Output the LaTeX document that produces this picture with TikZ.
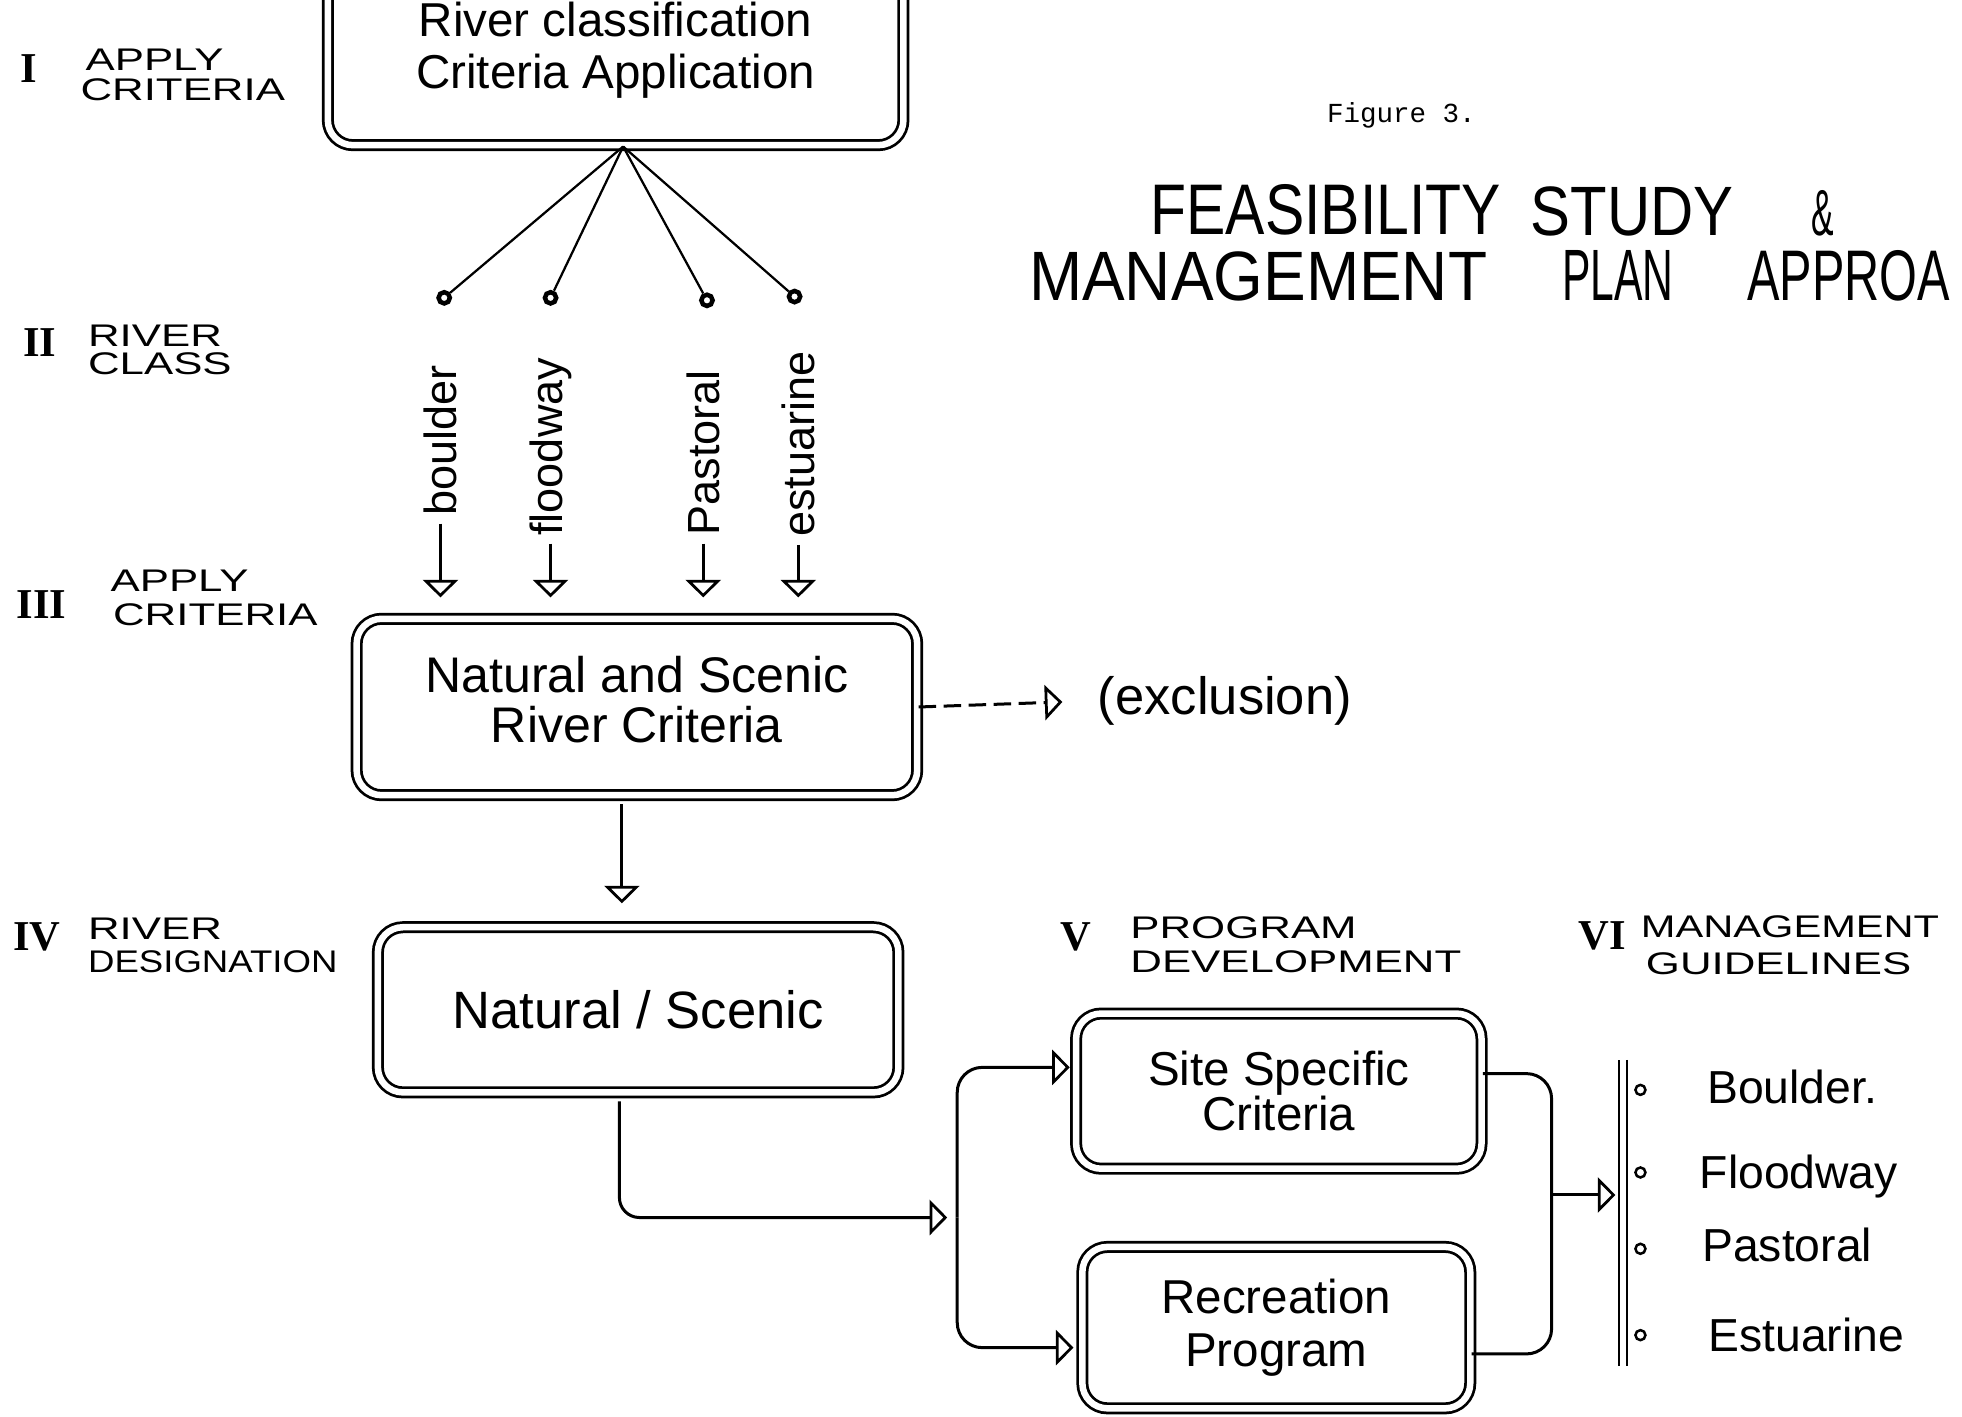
\documentclass[tikz,border=0pt]{standalone}
\usepackage{fontspec}
\setmainfont{Liberation Sans}
\newfontfamily\numfont{Liberation Serif}
\newfontfamily\typefont{Liberation Mono}
\newfontfamily\widefont[FakeStretch=1.4]{Liberation Sans}
\newfontfamily\midfont[FakeStretch=1.17]{Liberation Sans}
\newfontfamily\mgmtfont[FakeStretch=1.33]{Liberation Sans}
\usetikzlibrary{arrows.meta}
\begin{document}
\begin{tikzpicture}[x=0.5pt, y=-0.5pt,
  ln/.style={line width=1.2pt},
  thin ln/.style={line width=0.9pt},
  arr/.style={line width=1.2pt, -{Triangle[open, width=14pt, length=7pt, line width=1.1pt]}},
  dbox/.style={draw, line width=1.1pt, double, double distance=2.6pt, rounded corners=10pt, align=center, inner sep=0pt},
  steplbl/.style={font=\widefont\fontsize{12.5}{12.5}\selectfont, anchor=base west, inner sep=0pt},
  numlbl/.style={font=\numfont\bfseries\fontsize{17}{17}\selectfont, anchor=base west, inner sep=0pt},
  titleword/.style={anchor=base west, inner sep=0pt},
  rotlbl/.style={rotate=90, font=\fontsize{18}{18}\selectfont, inner sep=1pt},
  classdot/.style={circle, draw, line width=1.8pt, minimum size=4.5pt, inner sep=0pt},
  guidedot/.style={circle, draw, line width=1pt, minimum size=4pt, inner sep=0pt},
  guideitem/.style={font=\fontsize{18.5}{18.5}\selectfont, anchor=base west, inner sep=0pt}
]
\useasboundingbox (0,0) rectangle (1568,1132);
\clip (0,0) rectangle (1568,1132);

% boxes
\node[dbox, minimum width=230pt, minimum height=76pt, font=\fontsize{19}{21}\selectfont] (topbox) at (492,40) {River classification\\Criteria Application};
\node[dbox, minimum width=224pt, minimum height=70.5pt, font=\fontsize{20}{20.5}\selectfont] (boxcrit) at (509,565) {\raisebox{5pt}{\begin{tabular}{@{}c@{}}Natural and Scenic\\[-1pt]River Criteria\end{tabular}}};
\node[dbox, minimum width=208pt, minimum height=66pt, font=\fontsize{21}{21}\selectfont] (boxdes) at (510,807) {Natural / Scenic};
\node[dbox, minimum width=162pt, minimum height=62pt, font=\fontsize{19}{18}\selectfont] (boxsite) at (1022,872) {Site Specific\\Criteria};
\node[dbox, minimum width=155pt, minimum height=64.5pt, font=\fontsize{19}{21}\selectfont] (boxrec) at (1020,1061) {Recreation\\Program};

% title
\node[font=\typefont\fontsize{11}{11}\selectfont, inner sep=0pt] (fig) at (1120,92) {Figure 3.};
\node[titleword] (t1a) at (919,187) {\resizebox{140pt}{20pt}{FEASIBILITY}};
\node[titleword] (t1b) at (1223,188) {\resizebox{81pt}{19.5pt}{STUDY}};
\node[titleword] (t1c) at (1447,188) {\resizebox{9pt}{18pt}{\&}};
\node[titleword] (t2a) at (822,240) {\resizebox{183pt}{19.5pt}{MANAGEMENT}};
\node[titleword] (t2b) at (1248,240) {\resizebox{44.5pt}{20pt}{PLAN}};
\node[titleword] (t2c) at (1396,240) {\resizebox{81pt}{20pt}{APPROA}};

% step labels
\node[numlbl] (n1) at (16,66) {I};
\node[steplbl] (l1a) at (68,56) {APPLY};
\node[steplbl] (l1b) at (64,80) {CRITERIA};
\node[numlbl] (n2) at (18,285) {II};
\node[steplbl] (l2a) at (70,277) {RIVER};
\node[steplbl] (l2b) at (70,299) {CLASS};
\node[numlbl] (n3) at (13,494) {III};
\node[steplbl] (l3a) at (88,473) {APPLY};
\node[steplbl] (l3b) at (90,500) {CRITERIA};
\node[numlbl] (n4) at (10,760) {IV};
\node[steplbl] (l4a) at (70,751) {RIVER};
\node[steplbl, font=\midfont\fontsize{12.5}{12.5}\selectfont] (l4b) at (70,777) {DESIGNATION};
\node[numlbl] (n5) at (847,760) {V};
\node[steplbl] (l5a) at (903,750) {PROGRAM};
\node[steplbl] (l5b) at (903,777) {DEVELOPMENT};
\node[numlbl] (n6) at (1261,759) {VI};
\node[steplbl, font=\mgmtfont\fontsize{12.5}{12.5}\selectfont] (l6a) at (1311,749) {MANAGEMENT};
\node[steplbl] (l6b) at (1315,779) {GUIDELINES};

% fan to river classes
\coordinate (fan) at ([xshift=3pt]topbox.south);
\node[classdot] (d1) at (355,238) {};
\node[classdot] (d2) at (440,238) {};
\node[classdot] (d3) at (565,240) {};
\node[classdot] (d4) at (635,237) {};
\foreach \d in {d1,d2,d3,d4} \draw[thin ln] (fan) -- (\d);

% class labels and arrows
\node[rotlbl] (cb) at (352,352) {boulder};
\node[rotlbl] (cf) at (440,357) {floodway};
\node[rotlbl] (cp) at (562,362) {Pastoral};
\node[rotlbl] (ce) at (638,355) {estuarine};
\foreach \c in {cb,cf,cp,ce}
  \draw[arr, shorten <=2pt, shorten >=8pt] (\c.west) -- (\c.west |- boxcrit.north);

% exclusion
\node[anchor=west, inner sep=0pt, font=\fontsize{21}{21}\selectfont] (excl) at (877,560) {(exclusion)};
\draw[arr, dash pattern=on 7pt off 3pt, shorten >=14pt] (boxcrit.east) -- (excl.west);

% criteria -> designation
\draw[arr, shorten <=3pt, shorten >=9pt] ([xshift=-6pt]boxcrit.south) -- ([xshift=-6pt]boxcrit.south |- boxdes.north);

% designation -> program development
\coordinate (split) at (765,973);
\draw[arr, rounded corners=8pt, shorten <=3pt, shorten >=4pt] ([xshift=-7.5pt]boxdes.south) |- (split);
\draw[arr, rounded corners=10pt, shorten >=2pt] (split) |- ([yshift=9.5pt]boxsite.west);
\draw[arr, rounded corners=10pt, shorten >=3pt] (split) |- ([yshift=-8pt]boxrec.west);

% program development -> guidelines
\coordinate (rb) at (1240,955);
\coordinate (gtop) at (1297,847);
\coordinate (gbot) at (1297,1092);
\draw[ln, rounded corners=10pt] ([yshift=7pt]boxsite.east) -| (rb) |- ([yshift=-10.5pt]boxrec.east);
\draw[arr, shorten >=3pt] (rb) -- (rb -| gtop);
\draw[line width=0.8pt, double, double distance=2.5pt] (gtop) -- (gbot);

% guidelines list
\node[guidedot] (g1) at (1311,871) {};
\node[guidedot] (g2) at (1311,937) {};
\node[guidedot] (g3) at (1311,998) {};
\node[guidedot] (g4) at (1311,1067) {};
\node[guideitem] (i1) at (1364,882) {Boulder.};
\node[guideitem] (i2) at (1358,950) {Floodway};
\node[guideitem] (i3) at (1360,1008) {Pastoral};
\node[guideitem] (i4) at (1365,1080) {Estuarine};
\end{tikzpicture}
\end{document}
